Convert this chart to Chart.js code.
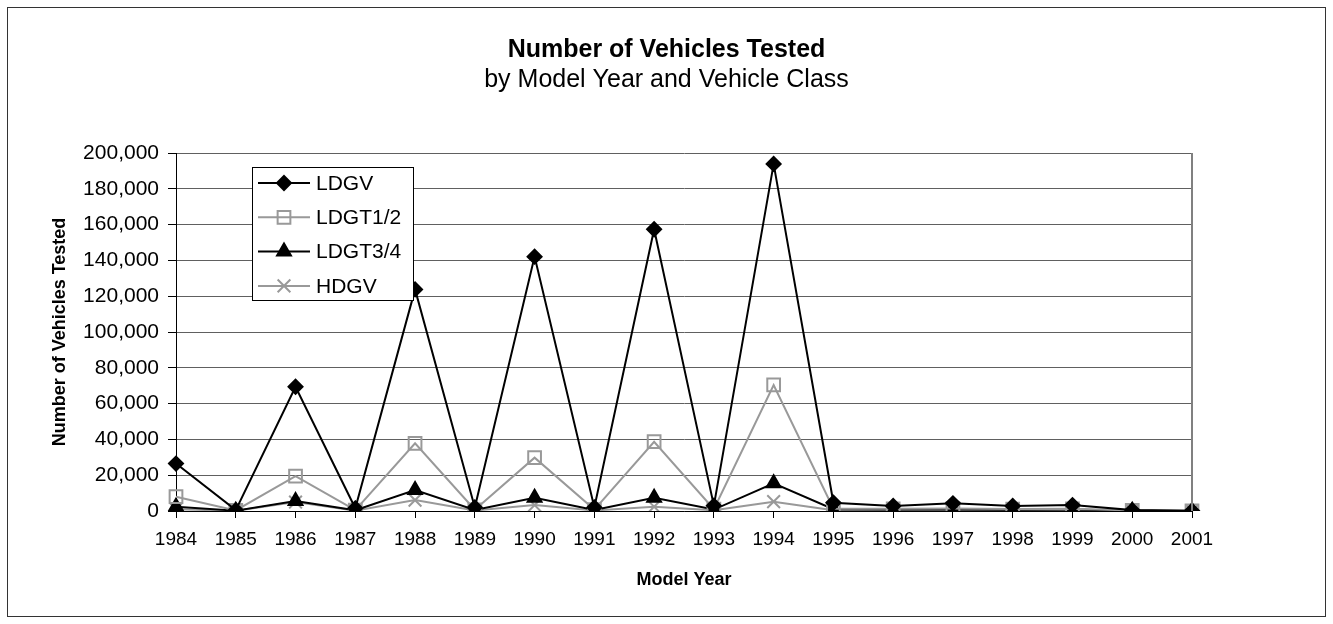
<!DOCTYPE html>
<html>
<head>
<meta charset="utf-8">
<script src="https://cdn.jsdelivr.net/npm/chart.js@4.4.1/dist/chart.umd.min.js"></script>
<style>
  html, body { margin: 0; padding: 0; background: #fff; }
  #wrap { width: 1333px; height: 624px; }
</style>
</head>
<body>
<div id="wrap"><canvas id="c" width="1333" height="624"></canvas></div>
<script>
const years = ['1984','1985','1986','1987','1988','1989','1990','1991','1992','1993','1994','1995','1996','1997','1998','1999','2000','2001'];
const ldgv   = [26500, 500, 69400, 1500, 123800, 2000, 142100, 2000, 157400, 3000, 193900, 4600, 2800, 4300, 2800, 3300, 500, 200];
const ldgt12 = [8000, 300, 19500, 500, 37800, 700, 29800, 800, 38700, 1000, 70400, 1300, 1200, 1400, 1100, 1200, 300, 100];
const ldgt34 = [2400, 200, 5600, 400, 11700, 600, 7400, 600, 7400, 800, 15500, 1000, 800, 900, 700, 800, 200, 50];
const hdgv   = [1000, 100, 5000, 200, 6100, 300, 3300, 300, 2400, 400, 5200, 400, 300, 300, 300, 300, 100, 50];
const seriesNames = ['LDGV', 'LDGT1/2', 'LDGT3/4', 'HDGV'];
const yMin = 0, yMax = 200000, yStep = 20000;

const FONT = 'Arial, "Liberation Sans", Helvetica, sans-serif';
Chart.defaults.font.family = FONT;
Chart.defaults.color = '#000';

const GREY = '#999999';

const frame = {
  id: 'frame',
  beforeDraw(chart) {
    const ctx = chart.ctx;
    ctx.save();
    ctx.fillStyle = '#fff';
    ctx.fillRect(0, 0, chart.width, chart.height);
    ctx.strokeStyle = '#333';
    ctx.lineWidth = 1;
    ctx.strokeRect(7.5, 7.5, chart.width - 15, chart.height - 15);
    ctx.restore();
  },
  afterDraw(chart) {
    const ctx = chart.ctx;
    const a = chart.chartArea;
    ctx.save();
    ctx.strokeStyle = '#808080';
    ctx.lineWidth = 2;
    ctx.beginPath();
    ctx.moveTo(Math.round(a.right), a.top);
    ctx.lineTo(Math.round(a.right), a.bottom);
    ctx.stroke();
    ctx.restore();
  }
};

function marker(ctx, style, x, y, r, stroke, fill) {
  ctx.save();
  ctx.strokeStyle = stroke;
  ctx.fillStyle = fill;
  ctx.lineWidth = 2;
  ctx.beginPath();
  if (style === 'rectRot') {
    ctx.moveTo(x, y - r); ctx.lineTo(x + r, y); ctx.lineTo(x, y + r); ctx.lineTo(x - r, y); ctx.closePath();
    ctx.fill(); ctx.stroke();
  } else if (style === 'rect') {
    const s = r * Math.SQRT1_2;
    ctx.rect(x - s, y - s, 2 * s, 2 * s);
    ctx.stroke();
  } else if (style === 'triangle') {
    const h = r * Math.sqrt(3) / 2;
    ctx.moveTo(x, y - r); ctx.lineTo(x + h, y + r / 2); ctx.lineTo(x - h, y + r / 2); ctx.closePath();
    ctx.fill(); ctx.stroke();
  } else if (style === 'crossRot') {
    const s = r * Math.SQRT1_2;
    ctx.moveTo(x - s, y - s); ctx.lineTo(x + s, y + s);
    ctx.moveTo(x + s, y - s); ctx.lineTo(x - s, y + s);
    ctx.stroke();
  }
  ctx.restore();
}

const boxLegend = {
  id: 'boxLegend',
  afterDraw(chart) {
    const ctx = chart.ctx;
    const a = chart.chartArea;
    const bx = a.left + 76, by = a.top + 14, bw = 161, bh = 133;
    ctx.save();
    ctx.fillStyle = '#fff';
    ctx.fillRect(bx, by, bw, bh);
    ctx.strokeStyle = '#000';
    ctx.lineWidth = 1;
    ctx.strokeRect(bx + 0.5, by + 0.5, bw, bh);
    chart.data.datasets.forEach((ds, i) => {
      const cy = by + 16 + i * 34.3;
      ctx.strokeStyle = ds.borderColor;
      ctx.lineWidth = 2;
      ctx.beginPath();
      ctx.moveTo(bx + 6, cy); ctx.lineTo(bx + 58, cy);
      ctx.stroke();
      marker(ctx, ds.pointStyle, bx + 32, cy, ds.pointRadius, ds.pointBorderColor, ds.pointBackgroundColor);
      ctx.fillStyle = '#000';
      ctx.font = '21px ' + FONT;
      ctx.textBaseline = 'middle';
      ctx.textAlign = 'left';
      ctx.fillText(ds.label, bx + 64, cy + 1);
    });
    ctx.restore();
  }
};

const datasets = [
  { label: seriesNames[0], data: ldgv, borderColor: '#000', pointBorderColor: '#000', pointBackgroundColor: '#000', pointStyle: 'rectRot', pointRadius: 7 },
  { label: seriesNames[1], data: ldgt12, borderColor: GREY, pointBorderColor: GREY, pointBackgroundColor: 'rgba(0,0,0,0)', pointStyle: 'rect', pointRadius: 9 },
  { label: seriesNames[2], data: ldgt34, borderColor: '#000', pointBorderColor: '#000', pointBackgroundColor: '#000', pointStyle: 'triangle', pointRadius: 8 },
  { label: seriesNames[3], data: hdgv, borderColor: GREY, pointBorderColor: GREY, pointBackgroundColor: GREY, pointStyle: 'crossRot', pointRadius: 9 }
].map(d => Object.assign({ borderWidth: 2, pointBorderWidth: 2, tension: 0, fill: false, pointHoverRadius: d.pointRadius }, d));

new Chart(document.getElementById('c'), {
  type: 'line',
  data: { labels: years, datasets },
  options: {
    responsive: false,
    animation: false,
    events: [],
    layout: { padding: 0 },
    plugins: {
      legend: { display: false },
      tooltip: { enabled: false },
      title: {
        display: true, text: 'Number of Vehicles Tested', color: '#000',
        font: { size: 25, weight: 'bold', family: FONT, lineHeight: 1.2 },
        padding: { top: 35, bottom: 0 }
      },
      subtitle: {
        display: true, text: 'by Model Year and Vehicle Class', color: '#000',
        font: { size: 25, family: FONT, lineHeight: 1.2 },
        padding: { top: 0, bottom: 58 }
      }
    },
    scales: {
      x: {
        offset: false,
        grid: { drawOnChartArea: false, drawTicks: true, tickLength: 7, tickColor: '#000', tickWidth: 1 },
        border: { color: '#000', width: 1 },
        ticks: { color: '#000', font: { size: 19 }, padding: 10.6, maxRotation: 0, autoSkip: false },
        title: { display: true, text: 'Model Year', color: '#000', font: { size: 18, weight: 'bold' }, padding: { top: 0, bottom: 33 } },
        afterFit(s) { s.height = 113; }
      },
      y: {
        min: yMin, max: yMax,
        grid: { color: '#606060', lineWidth: 1, drawTicks: true, tickLength: 8, tickColor: '#000' },
        border: { color: '#000', width: 1 },
        ticks: { stepSize: yStep, color: '#000', font: { size: 21 }, padding: 9,
                 callback: v => Number(v).toLocaleString('en-US') },
        title: { display: true, text: 'Number of Vehicles Tested', color: '#000', font: { size: 18, weight: 'bold' }, padding: { top: 49, bottom: 0 } },
        afterFit(s) { s.width = 176; }
      },
      spacer: {
        type: 'linear', position: 'right', min: 0, max: 1,
        grid: { display: false }, border: { display: false }, ticks: { display: false },
        afterFit(s) { s.width = 141; }
      }
    }
  },
  plugins: [frame, boxLegend]
});
</script>
</body>
</html>
